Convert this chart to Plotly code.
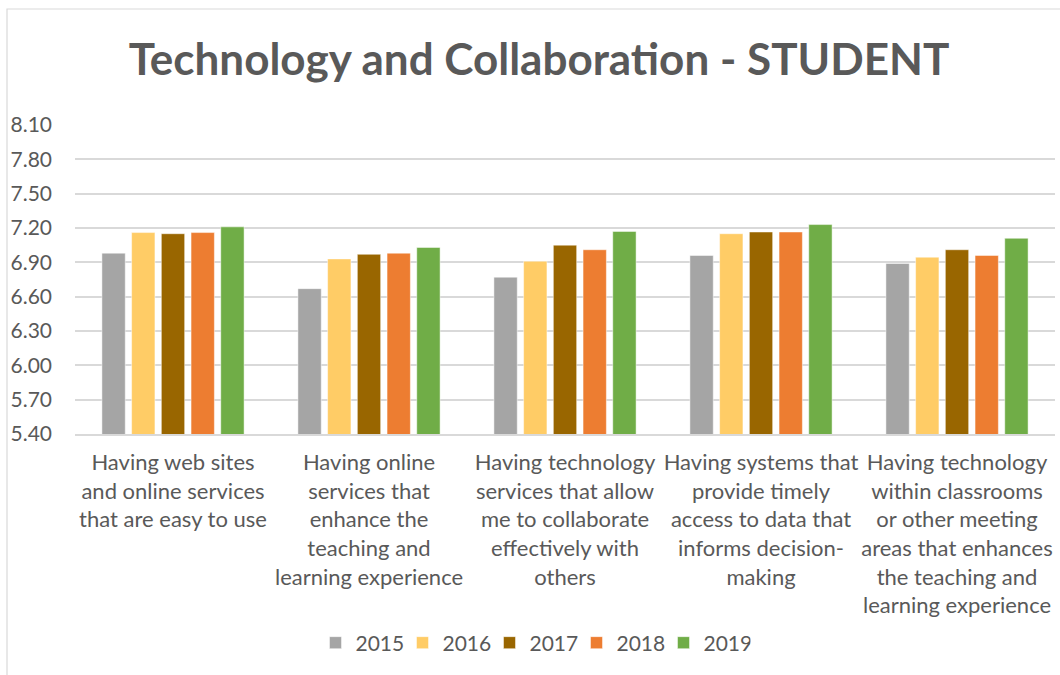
import plotly.graph_objects as go

categories = [
    "Having web sites<br>and online services<br>that are easy to use",
    "Having online<br>services that<br>enhance the<br>teaching and<br>learning experience",
    "Having technology<br>services that allow<br>me to collaborate<br>effectively with<br>others",
    "Having systems that<br>provide timely<br>access to data that<br>informs decision-<br>making",
    "Having technology<br>within classrooms<br>or other meeting<br>areas that enhances<br>the teaching and<br>learning experience",
]
years = ["2015", "2016", "2017", "2018", "2019"]
v2015 = [6.98, 6.67, 6.77, 6.96, 6.89]
v2016 = [7.16, 6.93, 6.91, 7.15, 6.945]
v2017 = [7.15, 6.97, 7.05, 7.165, 7.01]
v2018 = [7.16, 6.98, 7.01, 7.165, 6.96]
v2019 = [7.21, 7.03, 7.17, 7.23, 7.11]
series = [v2015, v2016, v2017, v2018, v2019]
colors = ["#A5A5A5", "#FFCC66", "#996600", "#ED7D31", "#70AD47"]
y_ticks = [5.4, 5.7, 6.0, 6.3, 6.6, 6.9, 7.2, 7.5, 7.8, 8.1]

FONT = "Lato"
GREY = "#595959"

fig = go.Figure()
for name, vals, col in zip(years, series, colors):
    fig.add_trace(go.Bar(
        x=list(range(len(categories))), y=vals, name=name,
        marker=dict(color=col, line=dict(color="rgba(255,255,255,0.6)", width=0.8)),
    ))

L, R, T, B = 75, 5, 125, 241
W, H = 1060, 675
pw, ph = W - L - R, H - T - B

fig.update_layout(
    width=W, height=H,
    margin=dict(l=L, r=R, t=T, b=B),
    paper_bgcolor="white", plot_bgcolor="white",
    barmode="group", bargap=0.242, bargroupgap=0.215,
    font=dict(family=FONT, color=GREY, size=21),
    title=dict(text="<b>Technology and Collaboration - STUDENT</b>",
               font=dict(family=FONT, size=44, color=GREY),
               x=539 / W, xref="container", xanchor="center",
               y=1 - 60 / H, yref="container", yanchor="middle"),
    showlegend=True,
    legend=dict(orientation="h", x=(533 - L) / pw, xanchor="center",
                y=(H - B - 643) / ph, yanchor="middle",
                font=dict(family=FONT, size=21, color=GREY),
                itemwidth=30, entrywidth=42, entrywidthmode="pixels",
                traceorder="normal"),
    xaxis=dict(tickmode="array", tickvals=list(range(len(categories))),
               ticktext=categories, range=[-0.5, len(categories) - 0.5],
               showgrid=False, showline=True, linecolor="#D9D9D9", linewidth=1.5,
               ticks="", tickangle=0, ticklabelstandoff=8,
               tickfont=dict(size=22, color=GREY)),
    yaxis=dict(range=[5.4, 8.1], tickmode="array", tickvals=y_ticks,
               ticktext=[f"{v:.2f}" for v in y_ticks],
               showgrid=True, gridcolor="#D9D9D9", gridwidth=1.5,
               zeroline=False, showline=False, ticks="",
               ticklabelstandoff=22, tickfont=dict(size=21, color=GREY)),
    shapes=[dict(type="rect", xref="paper", yref="paper",
                 x0=(7 - L) / pw, x1=(W + 20 - L) / pw,
                 y0=(H - B - (H + 20)) / ph, y1=(H - B - 9) / ph,
                 line=dict(color="#D9D9D9", width=1.2), fillcolor="rgba(0,0,0,0)",
                 layer="below")],
)

fig.write_html("out.html")
